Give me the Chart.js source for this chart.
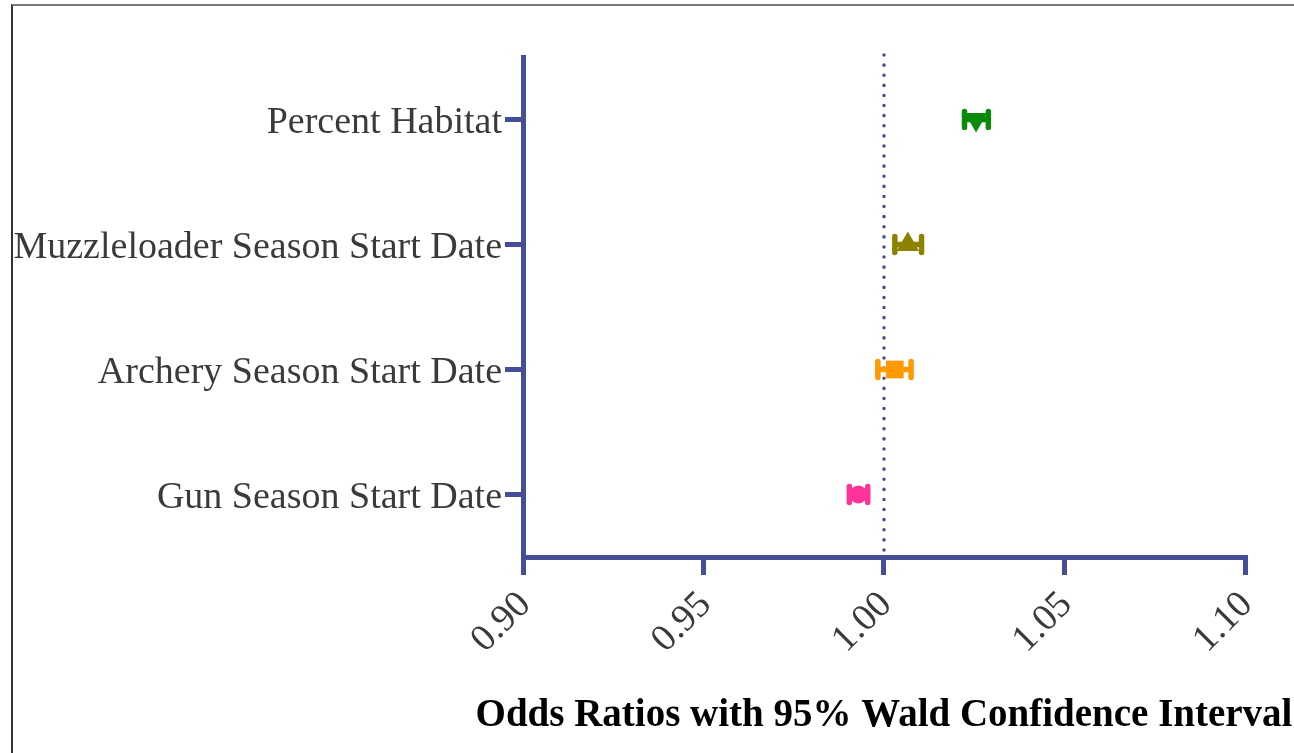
<!DOCTYPE html>
<html>
<head>
<meta charset="utf-8">
<script src="https://cdn.jsdelivr.net/npm/chart.js@4/dist/chart.umd.min.js"></script>
<style>
  body { margin: 0; background: #fff; }
  #wrap { position: relative; width: 1294px; height: 753px; overflow: hidden; }
  #frame { position: absolute; left: 11px; top: 4px; right: -2px; bottom: -2px;
           border-left: 2px solid #333; border-top: 2px solid #777; pointer-events: none; }
  canvas { position: absolute; left: 0; top: 0; }
</style>
</head>
<body>
<div id="wrap">
  <canvas id="chartCanvas" width="1294" height="753"></canvas>
  <div id="frame"></div>
</div>
<script>
// data
const categories = ['Percent Habitat', 'Muzzleloader Season Start Date', 'Archery Season Start Date', 'Gun Season Start Date']
const oddsRatio = [1.0255, 1.0066, 1.0030, 0.9929]
const ciLow = [1.0223, 1.0030, 0.9983, 0.9904]
const ciHigh = [1.0289, 1.0104, 1.0075, 0.9955]
const xTicks = [0.90, 0.95, 1.00, 1.05, 1.10]
const refValue = 1.00
const xTitle = 'Odds Ratios with 95% Wald Confidence Interval'

const colors = ['#0a8a0a', '#8c8200', '#ff9900', '#ff3399']
const shapes = ['triangle', 'triangle', 'rect', 'circle']
const rotations = [180, 0, 0, 0]
const radii = [13, 13, 12.5, 9]

const axisColor = '#454f98'
const serif = "'Liberation Serif', 'Times New Roman', serif"

// dotted line at 1 and the confidence interval bars, drawn with the chart's scales
const errorBars = {
  id: 'errorBars',
  beforeDatasetsDraw(chart) {
    const ctx = chart.ctx
    const x = chart.scales.x
    const y = chart.scales.y
    const area = chart.chartArea

    ctx.save()
    ctx.strokeStyle = axisColor
    ctx.lineWidth = 3.5
    ctx.lineCap = 'round'
    ctx.setLineDash([0.1, 10])
    const rx = x.getPixelForValue(refValue)
    ctx.beginPath()
    ctx.moveTo(rx, area.top - 2)
    ctx.lineTo(rx, area.bottom - 4)
    ctx.stroke()
    ctx.restore()

    categories.forEach((c, i) => {
      const py = y.getPixelForValue(i)
      const x0 = x.getPixelForValue(ciLow[i])
      const x1 = x.getPixelForValue(ciHigh[i])
      ctx.save()
      ctx.strokeStyle = colors[i]
      ctx.lineWidth = 5.5
      ctx.lineCap = 'round'
      ctx.beginPath()
      ctx.moveTo(x0, py)
      ctx.lineTo(x1, py)
      ctx.moveTo(x0, py - 8)
      ctx.lineTo(x0, py + 8)
      ctx.moveTo(x1, py - 8)
      ctx.lineTo(x1, py + 8)
      ctx.stroke()
      ctx.restore()
    })
  }
}

// axis title drawn here so it is not squeezed to the width of the plot area
const axisTitle = {
  id: 'axisTitle',
  afterDraw(chart) {
    const ctx = chart.ctx
    const area = chart.chartArea
    ctx.save()
    ctx.font = 'bold 39px ' + serif
    ctx.fillStyle = '#000'
    ctx.textAlign = 'center'
    ctx.textBaseline = 'alphabetic'
    ctx.fillText(xTitle, (area.left + area.right) / 2, 726)
    ctx.restore()
  }
}

const chart = new Chart(document.getElementById('chartCanvas'), {
  type: 'scatter',
  data: {
    datasets: [{
      data: categories.map((c, i) => ({ x: oddsRatio[i], y: c })),
      pointStyle: shapes,
      rotation: rotations,
      radius: radii,
      hoverRadius: radii,
      backgroundColor: colors,
      borderColor: colors,
      borderWidth: 0
    }]
  },
  options: {
    responsive: false,
    animation: false,
    layout: { padding: { top: 57, right: 49, left: 0, bottom: 0 } },
    plugins: { legend: { display: false }, tooltip: { enabled: false } },
    scales: {
      x: {
        type: 'linear',
        min: 0.90,
        max: 1.10,
        afterBuildTicks: scale => { scale.ticks = xTicks.map(v => ({ value: v })) },
        afterFit: scale => { scale.height = 196 },
        border: { display: true, color: axisColor, width: 5 },
        grid: { display: true, drawOnChartArea: false, drawTicks: true, tickLength: 18, lineWidth: 5, color: axisColor },
        ticks: {
          minRotation: 45,
          maxRotation: 45,
          padding: 8,
          labelOffset: 2,
          color: '#3a3a3a',
          font: { family: serif, size: 38 },
          callback: v => v.toFixed(2)
        },
        title: { display: false }
      },
      y: {
        type: 'category',
        labels: categories,
        offset: true,
        afterFit: scale => { scale.width = 523 },
        border: { display: true, color: axisColor, width: 5 },
        grid: { display: true, drawOnChartArea: false, drawTicks: true, tickLength: 18, lineWidth: 5, color: axisColor, offset: false },
        ticks: {
          padding: 3,
          labelOffset: 4,
          color: '#3a3a3a',
          font: { family: serif, size: 38 }
        }
      }
    }
  },
  plugins: [errorBars, axisTitle]
})
</script>
</body>
</html>
